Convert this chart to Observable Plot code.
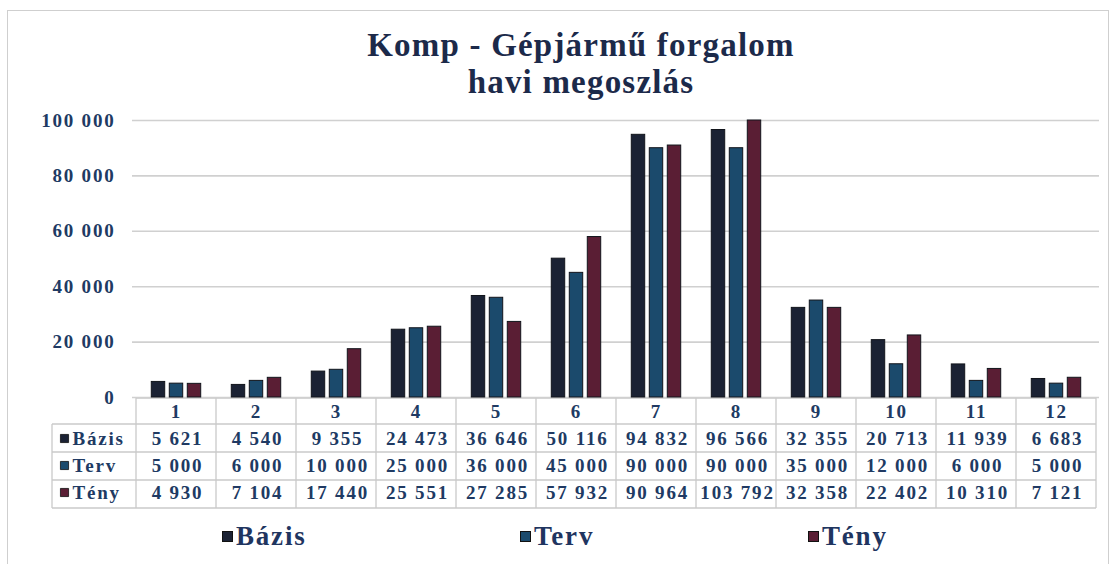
<!DOCTYPE html>
<html>
<head>
<meta charset="utf-8">
<script src="https://cdn.jsdelivr.net/npm/d3@7"></script>
<script src="https://cdn.jsdelivr.net/npm/@observablehq/plot@0.6"></script>
<style>
  body { margin: 0; background: #fff; }
  #wrap { position: relative; width: 1119px; height: 564px; overflow: hidden; background: #fff;
          font-family: "Liberation Serif", "Times New Roman", serif; }
  #frame { position: absolute; left: 7px; top: 10px; width: 1102px; height: 580px;
           border: 1px solid #cfcfcf; box-sizing: border-box; }
  #chart { position: absolute; left: 0; top: 0; }
  #title { position: absolute; left: 0; top: 27px; width: 1162px; text-align: center;
           font-weight: bold; font-size: 33px; line-height: 37px; letter-spacing: 1.2px; color: #1c2a4a; }
  .leg { position: absolute; top: 521px; font-weight: bold; font-size: 27px; letter-spacing: 1.8px;
         color: #1f3560; white-space: nowrap; }
  .leg i { display: inline-block; width: 11px; height: 11px; margin-right: 3px; vertical-align: 3px;
           border: 1px solid #111; box-sizing: border-box; }
</style>
</head>
<body>
<div id="wrap">
  <div id="frame"></div>
  <div id="chart"></div>
  <div id="title">Komp - Gépjármű forgalom<br>havi megoszlás</div>
  <div id="legend"></div>
</div>
<script>
// ---- data ----
const months = ["1","2","3","4","5","6","7","8","9","10","11","12"];
const seriesNames = ["Bázis","Terv","Tény"];
const bazis = [5621, 4540, 9355, 24473, 36646, 50116, 94832, 96566, 32355, 20713, 11939, 6683];
const terv  = [5000, 6000, 10000, 25000, 36000, 45000, 90000, 90000, 35000, 12000, 6000, 5000];
const teny  = [4930, 7104, 17440, 25551, 27285, 57932, 90964, 103792, 32358, 22402, 10310, 7121];
const yTicks = [0, 20000, 40000, 60000, 80000, 100000];
const colors = ["#1b2234", "#1b4a6c", "#5a1e34"];

const seriesValues = [bazis, terv, teny];
const rows = seriesNames.map((s, k) => months.map((m, i) => ({month: m, series: s, value: seriesValues[k][i]})));
const fmt = d => d3.format(",")(d).replace(/,/g, " ");

const W = 1119, H = 564, ML = 132, MR = 20, MT = 120, MB = 167;
const bw = (W - ML - MR) / months.length;
const barW = 14, step = 18;
const textColor = "#203a63";
const rowDy = [41, 68, 95];

const marks = [
  Plot.gridY(yTicks, {stroke: "#d0d0d0", strokeOpacity: 1, strokeWidth: 1.6}),
  Plot.axisY({ticks: yTicks, tickSize: 0, tickPadding: 17, tickFormat: fmt,
              fontSize: 19, fontWeight: "bold", fill: textColor}),
  Plot.axisX({tickSize: 0, tickPadding: 7, fontSize: 19, fontWeight: "bold", fill: textColor})
];
seriesNames.forEach((s, k) => {
  const off = (k - 1) * step;
  marks.push(Plot.barY(rows[k], {
    x: "month", y: "value", fill: colors[k], stroke: "#12151c", strokeWidth: 1,
    insetLeft: (bw - barW) / 2 + off, insetRight: (bw - barW) / 2 - off
  }));
  marks.push(Plot.text(rows[k], {
    x: "month", text: d => fmt(d.value), frameAnchor: "bottom", dy: rowDy[k], dx: 1, lineAnchor: "middle",
    fontSize: 19, fontWeight: "bold", fill: textColor
  }));
  marks.push(Plot.text([s], {
    frameAnchor: "bottom-left", dx: -60, dy: rowDy[k], textAnchor: "start", lineAnchor: "middle",
    fontSize: 19, fontWeight: "bold", fill: textColor
  }));
  marks.push(Plot.dot([s], {
    frameAnchor: "bottom-left", dx: -68, dy: rowDy[k], symbol: "square", r: 4.6,
    fill: colors[k], stroke: "#111", strokeWidth: 0.8
  }));
});

const plot = Plot.plot({
  width: W, height: H,
  marginLeft: ML, marginRight: MR, marginTop: MT, marginBottom: MB,
  style: {fontFamily: '"Liberation Serif", "Times New Roman", serif', background: "transparent",
          color: textColor, letterSpacing: "1.8px"},
  x: {type: "band", domain: months, padding: 0, label: null},
  y: {domain: [0, 100000], clamp: true, label: null},
  marks
});
document.getElementById("chart").appendChild(plot);

// ---- data table grid, positioned from the plot's scales ----
const xs = plot.scale("x"), ys = plot.scale("y");
const x0 = xs.apply(months[0]), x1 = xs.apply(months[months.length - 1]) + xs.bandwidth;
const yTop = ys.apply(0) + 1;
const yRows = [yTop + 26, yTop + 54, yTop + 82, yTop + 110];
const xLeft = 52;
const g = d3.select(plot).insert("g", ":first-child").attr("stroke", "#cacaca").attr("stroke-width", 1.3);
g.append("line").attr("x1", x0).attr("x2", x1).attr("y1", yTop).attr("y2", yTop);
yRows.forEach(y => g.append("line").attr("x1", xLeft).attr("x2", x1).attr("y1", y).attr("y2", y));
months.forEach(m => {
  const x = xs.apply(m);
  g.append("line").attr("x1", x).attr("x2", x).attr("y1", yTop).attr("y2", yRows[3]);
});
g.append("line").attr("x1", x1).attr("x2", x1).attr("y1", yTop).attr("y2", yRows[3]);
g.append("line").attr("x1", xLeft).attr("x2", xLeft).attr("y1", yRows[0]).attr("y2", yRows[3]);

// ---- legend ----
const legX = [222, 520, 808];
const leg = document.getElementById("legend");
seriesNames.forEach((s, k) => {
  const el = document.createElement("div");
  el.className = "leg";
  el.style.left = legX[k] + "px";
  el.innerHTML = `<i style="background:${colors[k]}"></i>${s}`;
  leg.appendChild(el);
});
</script>
</body>
</html>
